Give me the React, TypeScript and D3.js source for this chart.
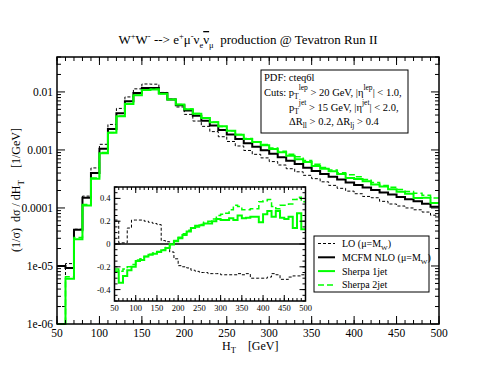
import React from 'react';
import * as d3 from 'd3';

// lower edges of the 10 GeV bins in H_T
const binStart = [
  50, 60, 70, 80, 90, 100, 110, 120, 130, 140, 150, 160, 170, 180, 190,
  200, 210, 220, 230, 240, 250, 260, 270, 280, 290, 300, 310, 320, 330, 340,
  350, 360, 370, 380, 390, 400, 410, 420, 430, 440, 450, 460, 470, 480, 490,
];
const binEnd = 500;

// (1/sigma) dsigma/dH_T [1/GeV]
const nloValues = [
  1.0e-5, 9.2e-6, 4.2e-5, 1.5e-4, 4.0e-4, 1.05e-3, 2.3e-3, 4.3e-3, 6.9e-3, 9.6e-3,
  1.17e-2, 1.17e-2, 9.6e-3, 7.4e-3, 5.9e-3, 4.8e-3, 3.9e-3, 3.2e-3, 2.65e-3, 2.2e-3,
  1.84e-3, 1.55e-3, 1.31e-3, 1.14e-3, 9.9e-4, 8.6e-4, 7.5e-4, 6.5e-4, 5.7e-4, 4.95e-4,
  4.35e-4, 3.85e-4, 3.45e-4, 3.1e-4, 2.75e-4, 2.5e-4, 2.25e-4, 2.05e-4, 1.85e-4, 1.7e-4,
  1.55e-4, 1.42e-4, 1.3e-4, 1.18e-4, 1.05e-4,
];
const loValues = [
  2.0e-6, 1.1e-5, 4.3e-5, 1.6e-4, 4.9e-4, 1.25e-3, 2.75e-3, 5.2e-3, 8.2e-3, 1.13e-2,
  1.37e-2, 1.36e-2, 9.8e-3, 7.5e-3, 5.5e-3, 4.1e-3, 3.15e-3, 2.55e-3, 2.07e-3, 1.69e-3,
  1.4e-3, 1.17e-3, 9.8e-4, 8.4e-4, 7.3e-4, 6.3e-4, 5.5e-4, 4.75e-4, 4.2e-4, 3.65e-4,
  3.2e-4, 2.82e-4, 2.45e-4, 2.18e-4, 1.95e-4, 1.76e-4, 1.58e-4, 1.5e-4, 1.3e-4, 1.17e-4,
  1.08e-4, 1.0e-4, 9.3e-5, 8.5e-5, 7.5e-5,
];
const sherpa1Values = [
  9.0e-7, 6.0e-6, 2.9e-5, 1.1e-4, 3.2e-4, 8.8e-4, 1.98e-3, 3.8e-3, 6.2e-3, 8.8e-3,
  1.08e-2, 1.1e-2, 9.3e-3, 7.4e-3, 6.05e-3, 5.05e-3, 4.2e-3, 3.55e-3, 3.0e-3, 2.55e-3,
  2.15e-3, 1.83e-3, 1.55e-3, 1.37e-3, 1.21e-3, 1.04e-3, 9.1e-4, 7.95e-4, 6.9e-4, 6.2e-4,
  5.3e-4, 4.75e-4, 4.3e-4, 3.85e-4, 3.3e-4, 3.15e-4, 2.9e-4, 2.55e-4, 2.35e-4, 2.1e-4,
  1.9e-4, 1.76e-4, 1.48e-4, 1.5e-4, 1.22e-4,
];
const sherpa2Values = [
  9.0e-7, 6.5e-6, 3.1e-5, 1.15e-4, 3.3e-4, 9.0e-4, 2.0e-3, 3.85e-3, 6.3e-3, 8.8e-3,
  1.09e-2, 1.11e-2, 9.3e-3, 7.4e-3, 6.1e-3, 5.1e-3, 4.25e-3, 3.6e-3, 3.02e-3, 2.53e-3,
  2.15e-3, 1.84e-3, 1.57e-3, 1.39e-3, 1.24e-3, 1.08e-3, 9.5e-4, 8.45e-4, 7.6e-4, 6.6e-4,
  5.65e-4, 5.0e-4, 4.5e-4, 4.05e-4, 3.75e-4, 3.45e-4, 3.1e-4, 2.75e-4, 2.45e-4, 2.28e-4,
  2.08e-4, 1.92e-4, 1.8e-4, 1.66e-4, 1.48e-4,
];

// inset: relative deviation from MCFM NLO
const loRatio = [
  0.21, 0.01, 0.01, 0.14, 0.21, 0.21, 0.21, 0.2, 0.19, 0.18,
  0.17, 0.03, 0.02, -0.07, -0.13, -0.19, -0.2, -0.21, -0.23, -0.24,
  -0.25, -0.25, -0.26, -0.26, -0.26, -0.27, -0.27, -0.27, -0.27, -0.26,
  -0.27, -0.26, -0.3, -0.3, -0.3, -0.3, -0.29, -0.26, -0.27, -0.31,
  -0.31, -0.29, -0.28, -0.28, -0.27,
];
const sherpa1Ratio = [
  -0.24, -0.34, -0.28, -0.23, -0.2, -0.15, -0.14, -0.11, -0.095, -0.085,
  -0.07, -0.055, -0.035, -0.005, 0.025, 0.05, 0.08, 0.11, 0.14, 0.16,
  0.165, 0.18, 0.18, 0.2, 0.22, 0.21, 0.21, 0.225, 0.21, 0.25,
  0.225, 0.23, 0.24, 0.24, 0.19, 0.26, 0.29, 0.24, 0.29, 0.23,
  0.22, 0.24, 0.14, 0.27, 0.13,
];
const sherpa2Ratio = [
  -0.22, -0.24, -0.22, -0.2, -0.18, -0.14, -0.13, -0.11, -0.09, -0.08,
  -0.065, -0.05, -0.03, 0.0, 0.03, 0.06, 0.09, 0.12, 0.14, 0.15,
  0.17, 0.19, 0.2, 0.22, 0.25, 0.26, 0.27, 0.3, 0.34, 0.33,
  0.3, 0.3, 0.31, 0.31, 0.37, 0.38, 0.39, 0.33, 0.31, 0.34,
  0.34, 0.35, 0.39, 0.41, 0.37,
];

const xTicks = [50, 100, 150, 200, 250, 300, 350, 400, 450, 500];
const yTicks = [1e-6, 1e-5, 1e-4, 1e-3, 1e-2];
const yTickLabels = ['1e-06', '1e-05', '0.0001', '0.001', '0.01'];
const insetYTicks = [-0.4, -0.2, 0, 0.2, 0.4];
const insetYLabels = ['-0.4', '-0.2', '0', '0.2', '0.4'];

const legendItems = [
  { label: 'LO (\u03bc=M', sub: 'W', tail: ')', color: '#000', width: 1, dash: '3,2' },
  { label: 'MCFM NLO (\u03bc=M', sub: 'W', tail: ')', color: '#000', width: 2, dash: '' },
  { label: 'Sherpa 1jet', sub: '', tail: '', color: '#00ff00', width: 2, dash: '' },
  { label: 'Sherpa 2jet', sub: '', tail: '', color: '#00ff00', width: 1.5, dash: '6,3' },
];

const FONT = '"Liberation Serif", "DejaVu Serif", serif';
const W = 494;
const H = 382;

const App = () => {
  const x = d3.scaleLinear().domain([50, 500]).range([57, 439]);
  const y = d3.scaleLog().domain([1e-6, 0.04]).range([324, 57]).clamp(true);
  const ix = d3.scaleLinear().domain([50, 500]).range([114.5, 305.5]);
  const iy = d3.scaleLinear().domain([-0.5, 0.5]).range([301, 187]).clamp(true);

  const stepPath = (xs: any, ys: any, vals: number[]) => {
    const pts: [number, number][] = binStart.map((b, i) => [xs(b), ys(vals[i])]);
    pts.push([xs(binEnd), ys(vals[vals.length - 1])]);
    return d3.line().curve(d3.curveStepAfter)(pts) || '';
  };

  const minorX = d3.range(50, 501, 10);
  const minorY: number[] = [];
  [1e-6, 1e-5, 1e-4, 1e-3, 1e-2].forEach((d) => {
    for (let k = 2; k <= 9; k++) if (d * k <= 0.04 + 1e-9) minorY.push(d * k);
  });
  const insetMinorY = d3.range(-0.5, 0.5001, 0.05);

  const [x0, x1] = x.range();
  const [y1, y0] = y.range();
  const [ix0, ix1] = ix.range();
  const [iy1, iy0] = iy.range();

  return (
    <div style={{ position: 'fixed', left: 0, top: 0, width: W, height: H, background: '#fff' }}>
      <svg width={W} height={H} style={{ display: 'block' }} fontFamily={FONT}>
        <rect width={W} height={H} fill="#fff" />

        {/* title */}
        <text x={248} y={44} textAnchor="middle" fontSize={13}>
          W<tspan dy={-5} fontSize={8.5}>+</tspan>
          <tspan dy={5}>W</tspan>
          <tspan dy={-5} fontSize={8.5}>-</tspan>
          <tspan dy={5}> --{'>'} e</tspan>
          <tspan dy={-5} fontSize={8.5}>+</tspan>
          <tspan dy={5}>{'\u03bc'}</tspan>
          <tspan dy={-5} fontSize={8.5}>-</tspan>
          <tspan dy={5}>{'\u03bd'}</tspan>
          <tspan dy={4} fontSize={8.5}>e</tspan>
          <tspan dy={-4} style={{ textDecoration: 'overline' }}>{'\u03bd'}</tspan>
          <tspan dy={4} fontSize={8.5}>{'\u03bc'}</tspan>
          <tspan dy={-4}>{'\u00a0\u00a0'}production @ Tevatron Run II</tspan>
        </text>

        {/* main histograms */}
        <g fill="none">
          <path d={stepPath(x, y, loValues)} stroke="#000" strokeWidth={1} strokeDasharray="3,2" />
          <path d={stepPath(x, y, nloValues)} stroke="#000" strokeWidth={2} />
          <path d={stepPath(x, y, sherpa2Values)} stroke="#00ff00" strokeWidth={1.5} strokeDasharray="6,3" />
          <path d={stepPath(x, y, sherpa1Values)} stroke="#00ff00" strokeWidth={2} />
        </g>

        {/* main frame ticks */}
        <g stroke="#000" strokeWidth={1}>
          {minorX.map((t) => (
            <g key={'mx' + t}>
              <line x1={x(t)} x2={x(t)} y1={y1} y2={y1 - 4} />
              <line x1={x(t)} x2={x(t)} y1={y0} y2={y0 + 4} />
            </g>
          ))}
          {xTicks.map((t) => (
            <g key={'Mx' + t}>
              <line x1={x(t)} x2={x(t)} y1={y1} y2={y1 - 8} />
              <line x1={x(t)} x2={x(t)} y1={y0} y2={y0 + 8} />
            </g>
          ))}
          {minorY.map((t, i) => (
            <g key={'my' + i}>
              <line x1={x0} x2={x0 + 4} y1={y(t)} y2={y(t)} />
              <line x1={x1} x2={x1 - 4} y1={y(t)} y2={y(t)} />
            </g>
          ))}
          {yTicks.map((t) => (
            <g key={'My' + t}>
              <line x1={x0} x2={x0 + 8} y1={y(t)} y2={y(t)} />
              <line x1={x1} x2={x1 - 8} y1={y(t)} y2={y(t)} />
            </g>
          ))}
        </g>
        <rect x={x0} y={y0} width={x1 - x0} height={y1 - y0} fill="none" stroke="#000" strokeWidth={1.5} />

        {/* main tick labels */}
        <g fontSize={11.5}>
          {xTicks.map((t) => (
            <text key={'lx' + t} x={x(t)} y={y1 + 12.5} textAnchor="middle">{t}</text>
          ))}
          {yTicks.map((t, i) => (
            <text key={'ly' + t} x={x0 - 4} y={y(t) + 4} textAnchor="end">{yTickLabels[i]}</text>
          ))}
        </g>

        {/* axis titles */}
        <text x={222} y={350} fontSize={12}>
          H<tspan dy={3} fontSize={8.5}>T</tspan>
          <tspan dy={-3}>{'\u00a0\u00a0\u00a0\u00a0'}[GeV]</tspan>
        </text>
        <text transform="translate(20,190) rotate(-90)" textAnchor="middle" fontSize={12}>
          (1/{'\u03c3'}){'\u00a0\u00a0'}d{'\u03c3'} / dH<tspan dy={4} fontSize={9}>T</tspan>
          <tspan dy={-4}>{'\u00a0\u00a0\u00a0\u00a0'}[1/GeV]</tspan>
        </text>

        {/* info box */}
        <rect x={261} y={70} width={147} height={63} fill="#fff" stroke="#000" strokeWidth={1} />
        <g fontSize={10.5}>
          <text x={264} y={81}>PDF: cteq6l</text>
          <text x={264} y={96}>
            Cuts: p<tspan dy={3} fontSize={7.5}>T</tspan>
            <tspan dy={-9} fontSize={7.5}>lep</tspan>
            <tspan dy={6}> {'>'} 20 GeV, |{'\u03b7'}</tspan>
            <tspan dy={-6} fontSize={7.5}>lep</tspan>
            <tspan dy={6}>| {'<'} 1.0,</tspan>
          </text>
          <text x={289} y={111}>
            p<tspan dy={3} fontSize={7.5}>T</tspan>
            <tspan dy={-9} fontSize={7.5}>jet</tspan>
            <tspan dy={6}> {'>'} 15 GeV, |{'\u03b7'}</tspan>
            <tspan dy={-6} fontSize={7.5}>jet</tspan>
            <tspan dy={6}>| {'<'} 2.0,</tspan>
          </text>
          <text x={289} y={125}>
            {'\u0394'}R<tspan dy={3} fontSize={7.5}>ll</tspan>
            <tspan dy={-3}> {'>'} 0.2, {'\u0394'}R</tspan>
            <tspan dy={3} fontSize={7.5}>lj</tspan>
            <tspan dy={-3}> {'>'} 0.4</tspan>
          </text>
        </g>

        {/* inset */}
        <rect x={ix0} y={iy0} width={ix1 - ix0} height={iy1 - iy0} fill="#fff" />
        <g fill="none">
          <line x1={ix0} x2={ix1} y1={iy(0)} y2={iy(0)} stroke="#000" strokeWidth={1.5} />
          <path d={stepPath(ix, iy, loRatio)} stroke="#000" strokeWidth={1} strokeDasharray="3,2" />
          <path d={stepPath(ix, iy, sherpa2Ratio)} stroke="#00ff00" strokeWidth={1.5} strokeDasharray="6,3" />
          <path d={stepPath(ix, iy, sherpa1Ratio)} stroke="#00ff00" strokeWidth={2} />
        </g>
        <g stroke="#000" strokeWidth={1}>
          {minorX.map((t) => (
            <g key={'imx' + t}>
              <line x1={ix(t)} x2={ix(t)} y1={iy1} y2={iy1 - 3} />
              <line x1={ix(t)} x2={ix(t)} y1={iy0} y2={iy0 + 3} />
            </g>
          ))}
          {xTicks.map((t) => (
            <g key={'iMx' + t}>
              <line x1={ix(t)} x2={ix(t)} y1={iy1} y2={iy1 - 6} />
              <line x1={ix(t)} x2={ix(t)} y1={iy0} y2={iy0 + 6} />
            </g>
          ))}
          {insetMinorY.map((t, i) => (
            <g key={'imy' + i}>
              <line x1={ix0} x2={ix0 + 3} y1={iy(t)} y2={iy(t)} />
              <line x1={ix1} x2={ix1 - 3} y1={iy(t)} y2={iy(t)} />
            </g>
          ))}
          {insetYTicks.map((t) => (
            <g key={'iMy' + t}>
              <line x1={ix0} x2={ix0 + 6} y1={iy(t)} y2={iy(t)} />
              <line x1={ix1} x2={ix1 - 6} y1={iy(t)} y2={iy(t)} />
            </g>
          ))}
        </g>
        <rect x={ix0} y={iy0} width={ix1 - ix0} height={iy1 - iy0} fill="none" stroke="#000" strokeWidth={1.5} />
        <g fontSize={8.5}>
          {xTicks.map((t) => (
            <text key={'ilx' + t} x={ix(t)} y={iy1 + 10} textAnchor="middle">{t}</text>
          ))}
          {insetYTicks.map((t, i) => (
            <text key={'ily' + t} x={ix0 - 4} y={iy(t) + 3} textAnchor="end">{insetYLabels[i]}</text>
          ))}
        </g>

        {/* legend */}
        <rect x={314} y={236} width={115} height={56} fill="#fff" stroke="#000" strokeWidth={1} />
        {legendItems.map((it, i) => {
          const ly = 243.5 + i * 13.8;
          return (
            <g key={'lg' + i}>
              <line x1={318} x2={335} y1={ly} y2={ly} stroke={it.color} strokeWidth={it.width}
                strokeDasharray={it.dash || undefined} />
              <text x={342} y={ly + 3.5} fontSize={10}>
                {it.label}
                {it.sub && <tspan dy={3} fontSize={7}>{it.sub}</tspan>}
                {it.tail && <tspan dy={-3}>{it.tail}</tspan>}
              </text>
            </g>
          );
        })}
      </svg>
    </div>
  );
};

export default App;
